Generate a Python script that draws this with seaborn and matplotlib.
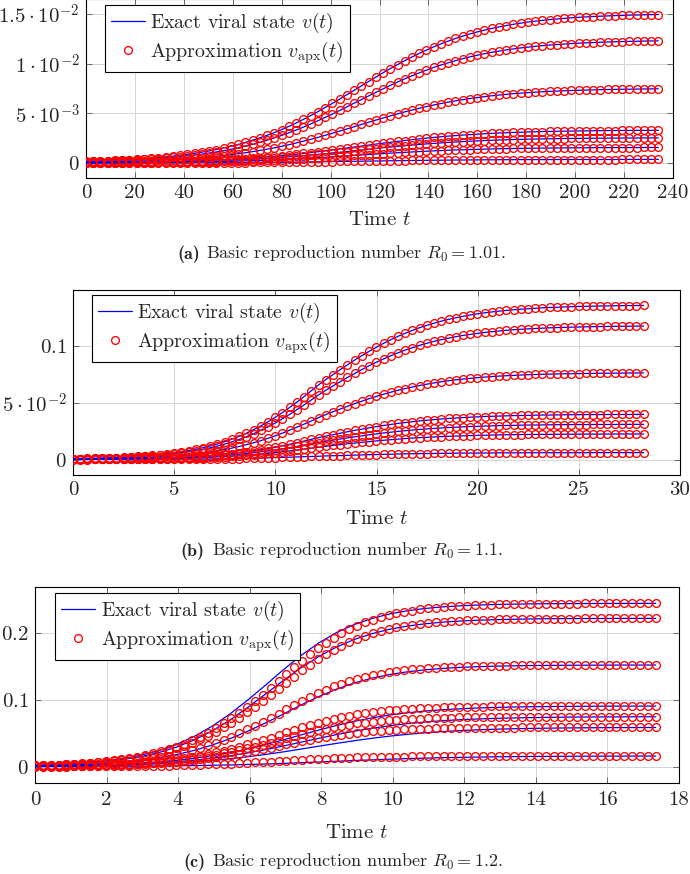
import numpy as np
import matplotlib
matplotlib.use("Agg")
import matplotlib.pyplot as plt
import seaborn as sns

# ── DATA ──────────────────────────────────────────────────────
# Panel (a): values in units of 1e-5, panel (b)/(c): units of 1e-4.

t_end_a = 234.0
t_end_b = 28.2
t_end_c = 17.35

# (a) R0 = 1.01, approximation == exact within a pixel
a1 = [18, 20, 22, 25, 28, 31, 35, 40, 44, 50,
      56, 63, 70, 79, 88, 98, 110, 122, 136, 152,
      169, 187, 208, 230, 254, 279, 307, 337, 369, 403,
      439, 477, 517, 558, 600, 643, 687, 731, 776, 820,
      864, 908, 950, 990, 1030, 1067, 1103, 1137, 1169, 1199,
      1227, 1253, 1277, 1299, 1319, 1337, 1354, 1369, 1383, 1396,
      1407, 1418, 1427, 1435, 1443, 1449, 1455, 1461, 1466, 1470,
      1474, 1477, 1480, 1483, 1485, 1488, 1489, 1491, 1493, 1494]
a2 = [14, 16, 18, 21, 23, 26, 29, 33, 37, 41,
      46, 52, 58, 65, 72, 81, 90, 101, 112, 125,
      139, 154, 171, 189, 209, 230, 253, 278, 304, 332,
      361, 393, 425, 459, 493, 529, 565, 602, 638, 675,
      711, 746, 781, 815, 847, 878, 907, 935, 962, 986,
      1009, 1030, 1050, 1068, 1085, 1100, 1114, 1126, 1138, 1148,
      1158, 1166, 1174, 1181, 1187, 1192, 1197, 1202, 1206, 1209,
      1212, 1215, 1218, 1220, 1222, 1224, 1225, 1227, 1228, 1229]
a3 = [9, 10, 11, 12, 14, 16, 18, 20, 22, 25,
      28, 31, 35, 39, 44, 49, 55, 61, 68, 76,
      84, 94, 104, 115, 127, 140, 153, 169, 185, 202,
      220, 238, 258, 279, 300, 321, 343, 365, 388, 410,
      432, 453, 474, 495, 515, 533, 551, 568, 584, 599,
      613, 626, 638, 649, 659, 668, 677, 684, 691, 698,
      703, 708, 713, 717, 721, 724, 727, 730, 732, 734,
      736, 738, 740, 741, 742, 743, 744, 745, 746, 747]
a4 = [4, 4, 5, 5, 6, 7, 8, 9, 10, 11,
      12, 14, 15, 17, 19, 22, 24, 27, 30, 33,
      37, 41, 46, 51, 56, 62, 68, 74, 82, 89,
      97, 105, 114, 123, 132, 142, 152, 161, 171, 181,
      191, 200, 209, 218, 227, 235, 243, 251, 258, 265,
      271, 276, 282, 286, 291, 295, 299, 302, 305, 308,
      310, 313, 315, 317, 318, 320, 321, 322, 323, 324,
      325, 326, 327, 327, 328, 328, 329, 329, 329, 330]
a5 = [3, 3, 4, 4, 5, 5, 6, 7, 8, 8,
      9, 11, 12, 13, 15, 17, 19, 21, 23, 26,
      29, 32, 35, 39, 43, 47, 52, 57, 63, 68,
      74, 81, 88, 94, 102, 109, 116, 124, 131, 139,
      146, 154, 161, 168, 174, 181, 187, 193, 198, 203,
      208, 212, 216, 220, 223, 227, 229, 232, 234, 237,
      238, 240, 242, 243, 244, 246, 247, 248, 248, 249,
      250, 250, 251, 251, 252, 252, 252, 253, 253, 253]
a6 = [2, 2, 2, 3, 3, 3, 4, 4, 5, 5,
      6, 7, 7, 8, 9, 10, 12, 13, 14, 16,
      18, 20, 22, 24, 27, 29, 32, 35, 39, 42,
      46, 50, 54, 59, 63, 68, 72, 77, 81, 86,
      91, 95, 100, 104, 108, 112, 116, 119, 123, 126,
      129, 132, 134, 136, 138, 140, 142, 144, 145, 147,
      148, 149, 150, 151, 151, 152, 153, 153, 154, 154,
      155, 155, 155, 156, 156, 156, 156, 157, 157, 157]
a7 = [0, 0, 1, 1, 1, 1, 1, 1, 1, 1,
      1, 2, 2, 2, 2, 2, 3, 3, 3, 4,
      4, 5, 5, 6, 6, 7, 8, 8, 9, 10,
      11, 12, 13, 14, 15, 16, 17, 18, 19, 20,
      21, 22, 23, 24, 25, 26, 27, 28, 29, 29,
      30, 31, 31, 32, 32, 33, 33, 34, 34, 34,
      35, 35, 35, 35, 35, 36, 36, 36, 36, 36,
      36, 36, 36, 36, 37, 37, 37, 37, 37, 37]

# (b) R0 = 1.1
b1 = [7, 9, 10, 12, 13, 16, 18, 21, 24, 28,
      33, 38, 44, 51, 59, 68, 79, 91, 104, 120,
      137, 157, 180, 204, 232, 263, 296, 333, 372, 414,
      459, 506, 555, 606, 657, 704, 748, 792, 834, 876,
      915, 953, 989, 1023, 1055, 1085, 1112, 1138, 1161, 1182,
      1201, 1219, 1234, 1248, 1261, 1273, 1283, 1292, 1300, 1307,
      1313, 1319, 1324, 1328, 1332, 1336, 1339, 1341, 1344, 1346,
      1348, 1349, 1351, 1352, 1353, 1354, 1355, 1356, 1356, 1357]
b2 = [6, 7, 9, 10, 12, 14, 16, 18, 21, 25,
      29, 33, 38, 44, 51, 59, 68, 79, 90, 104,
      119, 136, 156, 177, 201, 227, 257, 288, 322, 359,
      398, 439, 481, 525, 569, 610, 648, 686, 723, 758,
      793, 826, 857, 886, 914, 940, 964, 985, 1006, 1024,
      1041, 1056, 1069, 1082, 1093, 1102, 1111, 1119, 1126, 1132,
      1138, 1143, 1147, 1151, 1154, 1157, 1160, 1162, 1164, 1166,
      1167, 1169, 1170, 1171, 1172, 1173, 1174, 1174, 1175, 1175]
b3 = [4, 5, 6, 7, 8, 9, 10, 12, 14, 16,
      19, 21, 25, 29, 33, 38, 44, 51, 59, 67,
      77, 88, 101, 115, 131, 148, 166, 187, 209, 233,
      258, 285, 312, 340, 369, 396, 421, 445, 469, 492,
      514, 536, 556, 575, 593, 610, 625, 639, 652, 664,
      675, 685, 694, 702, 709, 715, 721, 726, 731, 735,
      738, 741, 744, 747, 749, 751, 752, 754, 755, 756,
      757, 758, 759, 760, 760, 761, 761, 762, 762, 763]
b4 = [2, 3, 3, 3, 4, 5, 5, 6, 7, 8,
      10, 11, 13, 15, 17, 20, 23, 27, 31, 35,
      40, 46, 53, 60, 68, 77, 87, 98, 109, 121,
      135, 148, 163, 178, 193, 207, 219, 232, 245, 257,
      268, 279, 290, 300, 309, 318, 326, 333, 340, 346,
      352, 357, 362, 366, 370, 373, 376, 379, 381, 383,
      385, 387, 388, 389, 391, 392, 392, 393, 394, 395,
      395, 396, 396, 396, 397, 397, 397, 397, 398, 398]
b5 = [2, 2, 2, 3, 3, 4, 4, 5, 6, 6,
      8, 9, 10, 12, 13, 16, 18, 21, 24, 27,
      31, 36, 41, 47, 53, 60, 68, 76, 85, 95,
      105, 116, 127, 138, 150, 161, 171, 181, 191, 200,
      209, 218, 226, 234, 241, 248, 254, 260, 265, 270,
      274, 278, 282, 285, 288, 291, 293, 295, 297, 299,
      300, 301, 303, 304, 304, 305, 306, 307, 307, 308,
      308, 308, 309, 309, 309, 309, 310, 310, 310, 310]
b6 = [1, 1, 2, 2, 2, 3, 3, 3, 4, 5,
      5, 6, 7, 8, 10, 11, 13, 15, 17, 20,
      23, 26, 30, 34, 39, 44, 49, 55, 62, 69,
      76, 84, 92, 101, 109, 117, 124, 131, 139, 145,
      152, 158, 164, 170, 175, 180, 185, 189, 193, 196,
      199, 202, 205, 207, 209, 211, 213, 214, 216, 217,
      218, 219, 220, 221, 221, 222, 222, 223, 223, 223,
      224, 224, 224, 224, 225, 225, 225, 225, 225, 225]
b7 = [0, 0, 0, 1, 1, 1, 1, 1, 1, 1,
      1, 2, 2, 2, 3, 3, 4, 4, 5, 5,
      6, 7, 8, 9, 10, 12, 13, 15, 17, 19,
      21, 23, 25, 27, 29, 32, 34, 35, 37, 39,
      41, 43, 44, 46, 47, 49, 50, 51, 52, 53,
      54, 55, 55, 56, 57, 57, 57, 58, 58, 59,
      59, 59, 59, 60, 60, 60, 60, 60, 60, 60,
      60, 60, 61, 61, 61, 61, 61, 61, 61, 61]

# (c) R0 = 1.2, approximation (markers)
c1 = [20, 24, 28, 32, 38, 44, 51, 60, 70, 81,
      94, 110, 127, 148, 171, 198, 228, 263, 302, 346,
      395, 450, 510, 577, 649, 726, 809, 896, 987, 1081,
      1177, 1278, 1385, 1489, 1590, 1685, 1774, 1857, 1932, 2000,
      2061, 2115, 2163, 2205, 2241, 2272, 2299, 2322, 2342, 2358,
      2373, 2385, 2395, 2404, 2411, 2417, 2423, 2427, 2431, 2434,
      2436, 2438, 2440, 2442, 2443, 2444, 2445, 2446, 2447, 2447,
      2448, 2448, 2448, 2449, 2449, 2449, 2449, 2449, 2450, 2450]
c2 = [18, 22, 25, 29, 34, 40, 47, 54, 63, 74,
      86, 100, 116, 134, 155, 180, 207, 239, 274, 314,
      359, 409, 463, 524, 589, 660, 735, 814, 896, 982,
      1069, 1161, 1258, 1352, 1444, 1530, 1611, 1686, 1755, 1816,
      1872, 1921, 1964, 2002, 2035, 2063, 2088, 2109, 2127, 2142,
      2155, 2166, 2175, 2183, 2190, 2195, 2200, 2204, 2207, 2210,
      2213, 2215, 2216, 2218, 2219, 2220, 2221, 2221, 2222, 2222,
      2223, 2223, 2223, 2224, 2224, 2224, 2224, 2224, 2225, 2225]
c3 = [13, 15, 17, 20, 23, 27, 32, 37, 43, 50,
      59, 68, 79, 92, 106, 123, 142, 164, 188, 215,
      246, 280, 318, 359, 404, 452, 504, 558, 614, 673,
      732, 796, 862, 927, 989, 1049, 1104, 1156, 1203, 1245,
      1283, 1317, 1346, 1372, 1395, 1414, 1431, 1445, 1458, 1468,
      1477, 1484, 1491, 1496, 1501, 1505, 1508, 1511, 1513, 1515,
      1516, 1518, 1519, 1520, 1521, 1521, 1522, 1523, 1523, 1523,
      1523, 1524, 1524, 1524, 1524, 1524, 1525, 1525, 1525, 1525]
c4 = [8, 9, 10, 12, 14, 16, 19, 22, 26, 30,
      35, 41, 47, 55, 64, 73, 85, 98, 112, 128,
      147, 167, 190, 214, 241, 270, 300, 333, 367, 402,
      437, 475, 514, 553, 590, 626, 659, 690, 718, 743,
      766, 786, 803, 819, 832, 844, 854, 862, 870, 876,
      881, 886, 890, 893, 896, 898, 900, 901, 903, 904,
      905, 906, 906, 907, 907, 908, 908, 909, 909, 909,
      909, 909, 909, 909, 910, 910, 910, 910, 910, 910]
c5 = [6, 7, 8, 10, 12, 14, 16, 18, 21, 25,
      29, 34, 39, 45, 52, 61, 70, 80, 92, 106,
      121, 138, 156, 177, 199, 222, 248, 274, 302, 331,
      360, 391, 424, 456, 487, 516, 543, 568, 591, 612,
      631, 648, 662, 675, 686, 695, 704, 711, 717, 722,
      726, 730, 733, 736, 738, 740, 742, 743, 744, 745,
      746, 746, 747, 748, 748, 748, 749, 749, 749, 749,
      749, 749, 749, 750, 750, 750, 750, 750, 750, 750]
c6 = [5, 6, 7, 8, 9, 11, 12, 14, 17, 20,
      23, 26, 31, 36, 41, 48, 55, 63, 73, 83,
      95, 108, 123, 139, 156, 175, 195, 216, 238, 260,
      283, 308, 333, 359, 383, 406, 427, 447, 465, 482,
      496, 509, 521, 531, 540, 547, 554, 559, 564, 568,
      571, 574, 577, 579, 581, 582, 583, 584, 585, 586,
      587, 587, 588, 588, 588, 589, 589, 589, 589, 589,
      589, 590, 590, 590, 590, 590, 590, 590, 590, 590]
c7 = [1, 2, 2, 2, 2, 3, 3, 4, 5, 5,
      6, 7, 8, 10, 11, 13, 15, 17, 20, 23,
      26, 29, 33, 38, 42, 47, 53, 59, 64, 71,
      77, 83, 90, 97, 104, 110, 116, 121, 126, 131,
      135, 138, 141, 144, 146, 148, 150, 152, 153, 154,
      155, 156, 156, 157, 157, 158, 158, 158, 159, 159,
      159, 159, 159, 159, 160, 160, 160, 160, 160, 160,
      160, 160, 160, 160, 160, 160, 160, 160, 160, 160]

# (c) exact viral state (blue lines), coarser sampling
e1 = [20, 29, 42, 60, 86, 123, 173, 243, 336, 457,
      609, 792, 1000, 1223, 1453, 1668, 1856, 2011, 2132, 2223,
      2291, 2339, 2373, 2397, 2413, 2425, 2433, 2438, 2442, 2444,
      2446, 2447, 2448, 2449, 2449, 2450]
e2 = [18, 26, 37, 53, 76, 108, 152, 213, 295, 403,
      538, 701, 889, 1090, 1292, 1483, 1652, 1794, 1908, 1995,
      2061, 2109, 2143, 2168, 2185, 2197, 2205, 2211, 2216, 2219,
      2221, 2222, 2223, 2224, 2224, 2225]
e3 = [13, 19, 26, 37, 51, 71, 99, 135, 183, 246,
      325, 421, 533, 656, 788, 925, 1052, 1163, 1255, 1327,
      1382, 1423, 1453, 1474, 1490, 1500, 1508, 1513, 1517, 1519,
      1521, 1522, 1523, 1524, 1524, 1525]
e4 = [8, 11, 15, 21, 29, 39, 53, 71, 95, 126,
      165, 212, 268, 333, 402, 476, 549, 618, 680, 732,
      775, 808, 835, 854, 869, 881, 889, 895, 899, 902,
      904, 906, 907, 908, 908, 909]
e5 = [7, 9, 13, 17, 23, 31, 42, 56, 74, 98,
      127, 163, 206, 256, 310, 367, 425, 481, 532, 576,
      614, 645, 670, 690, 705, 716, 725, 731, 736, 740,
      743, 745, 746, 747, 748, 748]
e6 = [6, 8, 11, 14, 19, 25, 33, 43, 56, 73,
      93, 119, 149, 183, 222, 264, 307, 349, 389, 426,
      458, 485, 508, 527, 541, 553, 562, 569, 574, 578,
      581, 583, 585, 586, 587, 588]
e7 = [1, 2, 3, 3, 4, 6, 7, 10, 13, 16,
      21, 26, 33, 40, 49, 59, 70, 81, 92, 102,
      112, 121, 128, 135, 140, 144, 148, 151, 153, 154,
      156, 157, 158, 158, 159, 159]

# ticks
xticks_a = list(range(0, 241, 20))
xticks_b = list(range(0, 31, 5))
xticks_c = list(range(0, 19, 2))
yticks_a = [0, 0.005, 0.01, 0.015]
yticks_b = [0, 0.05, 0.1]
yticks_c = [0, 0.1, 0.2]
ylabels_a = [r"$0$", r"$5\cdot10^{-3}$", r"$1\cdot10^{-2}$", r"$1.5\cdot10^{-2}$"]
ylabels_b = [r"$0$", r"$5\cdot10^{-2}$", r"$0.1$"]
ylabels_c = [r"$0$", r"$0.1$", r"$0.2$"]

captions = ["Basic reproduction number $R_0 = 1.01$.",
            "Basic reproduction number $R_0 = 1.1$.",
            "Basic reproduction number $R_0 = 1.2$."]
tags = ["(a)", "(b)", "(c)"]

# ── STYLE ─────────────────────────────────────────────────────
sns.set_theme(style="whitegrid")
plt.rcParams["font.family"] = ["cmr10", "DejaVu Serif"]
plt.rcParams["mathtext.fontset"] = "cm"
plt.rcParams["axes.unicode_minus"] = False

W, H = 690, 874
fig = plt.figure(figsize=(W / 100, H / 100), dpi=100)


def rect(left, right, top, bottom):
    # pixel box -> figure fraction
    return [left / W, 1 - bottom / H, (right - left) / W, (bottom - top) / H]


panels = [
    dict(box=rect(86, 673, -1, 178), apx=[a1, a2, a3, a4, a5, a6, a7], exact=None,
         t_end=t_end_a, scale=1e-5, xlim=(0, 240), ylim=(-0.0015, 0.0165),
         xt=xticks_a, yt=yticks_a, yl=ylabels_a, leg=(0.032, 0.966),
         lpad=6, cap_y=254, tag_x=177, cap_x=206),
    dict(box=rect(73, 680, 290, 475), apx=[b1, b2, b3, b4, b5, b6, b7], exact=None,
         t_end=t_end_b, scale=1e-4, xlim=(0, 30), ylim=(-0.0136, 0.1493),
         xt=xticks_b, yt=yticks_b, yl=ylabels_b, leg=(0.031, 0.973),
         lpad=8, cap_y=551, tag_x=180, cap_x=212),
    dict(box=rect(35, 679, 587, 783), apx=[c1, c2, c3, c4, c5, c6, c7],
         exact=[e1, e2, e3, e4, e5, e6, e7],
         t_end=t_end_c, scale=1e-4, xlim=(0, 18), ylim=(-0.0245, 0.2695),
         xt=xticks_c, yt=yticks_c, yl=ylabels_c, leg=(0.031, 0.969),
         lpad=11, cap_y=862, tag_x=183, cap_x=212),
]

for i, p in enumerate(panels):
    ax = fig.add_axes(p["box"])
    exact = p["exact"] if p["exact"] is not None else p["apx"]

    # exact viral state: blue lines
    for v in exact:
        t = np.linspace(0, p["t_end"], len(v))
        sns.lineplot(x=t, y=np.asarray(v) * p["scale"], ax=ax, color="blue",
                     linewidth=0.9, estimator=None, sort=False, zorder=3)
    n_lines = len(ax.lines)

    # approximation: hollow red circles
    for v in p["apx"]:
        t = np.linspace(0, p["t_end"], len(v))
        sns.lineplot(x=t, y=np.asarray(v) * p["scale"], ax=ax, linestyle="none",
                     marker="o", markersize=5.6, markerfacecolor="none",
                     markeredgecolor="red", markeredgewidth=0.95,
                     estimator=None, sort=False, zorder=4)

    ax.set_xlim(*p["xlim"])
    ax.set_ylim(*p["ylim"])
    ax.set_xticks(p["xt"])
    ax.set_xticklabels([str(x) for x in p["xt"]])
    ax.set_yticks(p["yt"])
    ax.set_yticklabels(p["yl"])
    ax.tick_params(direction="in", length=4, width=0.6, color="#555555",
                   labelsize=15, top=True, right=True, pad=4.5,
                   bottom=True, left=True)
    ax.tick_params(axis="x", pad=5.5 if i == 2 else 4.5)
    ax.grid(True, color="#d4d4d4", linewidth=0.7)
    ax.set_axisbelow(True)
    for s in ax.spines.values():
        s.set_color("black")
        s.set_linewidth(0.8)
    ax.set_xlabel("Time $t$", fontsize=15, labelpad=p["lpad"])
    ax.set_ylabel("")

    leg = ax.legend([ax.lines[0], ax.lines[n_lines]],
                    ["Exact viral state $v(t)$", r"Approximation $v_{\mathrm{apx}}(t)$"],
                    loc="upper left", bbox_to_anchor=p["leg"], borderaxespad=0,
                    fontsize=14.3, handlelength=1.7, handletextpad=0.3,
                    borderpad=0.3, labelspacing=0.2, fancybox=False,
                    framealpha=1, edgecolor="black")
    leg.get_frame().set_linewidth(0.8)

    fig.text(p["tag_x"] / W, 1 - p["cap_y"] / H, tags[i], fontfamily="cmb10",
             fontsize=13, va="center", ha="left")
    fig.text(p["cap_x"] / W, 1 - p["cap_y"] / H, captions[i],
             fontsize=13, va="center", ha="left")

fig.savefig("out.png", dpi=100)
